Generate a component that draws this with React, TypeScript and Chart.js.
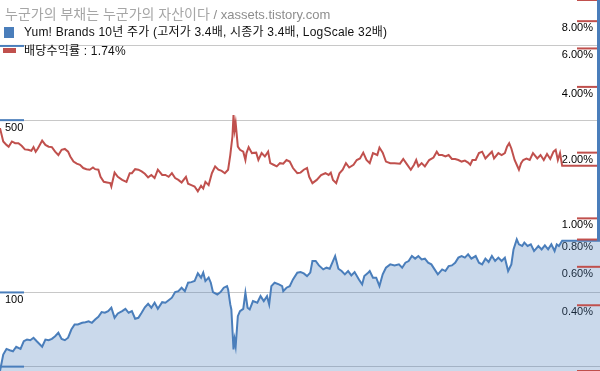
import React, { useEffect, useRef } from "react";
import { Chart, registerables } from "chart.js";

Chart.register(...registerables);

// ---- text ----
const TITLE_KO = "누군가의 부채는 누군가의 자산이다";
const TITLE_SITE = " / xassets.tistory.com";
const PRICE_LABEL = "Yum! Brands 10년 주가 (고저가 3.4배, 시종가 3.4배, LogScale 32배)";
const YIELD_LABEL = "배당수익률 : 1.74%";

// ---- price series (weeks from start, price in USD) ----
const priceWeeks = [
  0, 3, 6, 9, 12, 15, 19, 22, 25, 28,
  31, 34, 39, 42, 45, 48, 51, 54, 57, 60,
  63, 66, 69, 72, 76, 79, 82, 85, 88, 91,
  94, 97, 100, 103, 106, 109, 113, 116, 119, 122,
  125, 128, 131, 134, 137, 140, 143, 146, 150, 153,
  156, 159, 162, 165, 168, 171, 174, 177, 180, 183,
  186, 188, 190, 193, 195, 197, 201, 204, 207, 210,
  211, 213, 214, 216, 217, 218, 220, 222, 225, 227,
  229, 231, 234, 238, 241, 244, 247, 249, 251, 254,
  258, 261, 262, 265, 268, 271, 275, 278, 281, 284,
  287, 289, 292, 295, 299, 302, 305, 308, 310, 313,
  316, 319, 322, 325, 328, 332, 335, 337, 340, 342,
  345, 348, 351, 354, 357, 361, 365, 369, 372, 375,
  378, 381, 384, 387, 390, 393, 396, 399, 402, 405,
  409, 412, 415, 418, 421, 424, 427, 430, 433, 436,
  440, 443, 446, 449, 452, 455, 458, 461, 464, 467,
  470, 473, 475, 478, 480, 483, 485, 488, 491, 494,
  498, 501, 504, 507, 510, 513, 515, 517, 520,
];
const priceValues = [
  48, 56.0, 59.0, 58.3, 57.7, 60.2, 59.0, 63.4, 64.4, 64.0,
  65.5, 63.4, 60.2, 64.4, 64.0, 64.8, 66.4, 68.6, 64.8, 64.0,
  65.5, 70.7, 74.1, 74.1, 75.3, 75.7, 76.4, 75.3, 77.7, 79.7,
  83.2, 82.7, 84.0, 86.7, 78.9, 82.2, 84.0, 85.8, 82.7, 84.0,
  78.2, 78.9, 82.7, 87.0, 90.0, 86.7, 90.8, 85.8, 91.3, 90.8,
  93.0, 95.2, 100.3, 101.2, 104.5, 101.2, 109.5, 110.1, 111.2, 119.5,
  114.8, 120.3, 111.2, 114.8, 109.5, 100.3, 98.1, 100.3, 104.5, 106.1,
  102.9, 89.4, 85.3, 58.7, 64.4, 60.5, 80.1, 84.0, 85.8, 99.7,
  86.7, 85.3, 92.2, 90.8, 96.6, 92.2, 96.6, 89.4, 106.1, 109.5,
  107.8, 106.1, 101.2, 104.5, 106.0, 112.9, 120.3, 120.9, 119.5, 116.5,
  120.3, 134.1, 134.1, 128.7, 124.0, 126.0, 124.8, 134.1, 140.5, 124.8,
  122.1, 118.4, 122.1, 117.2, 120.9, 112.9, 107.8, 116.5, 119.5, 122.1,
  114.8, 114.8, 106.1, 118.4, 126.0, 130.0, 128.7, 130.0, 126.0, 132.0,
  134.1, 140.5, 137.1, 140.5, 136.2, 137.1, 132.0, 130.0, 124.0, 118.4,
  124.0, 122.1, 127.9, 128.7, 132.0, 138.4, 140.5, 138.4, 142.7, 137.1,
  140.5, 132.0, 130.0, 137.1, 132.8, 140.5, 134.1, 138.4, 134.1, 138.4,
  122.1, 130.0, 149.5, 164.2, 156.7, 154.3, 159.2, 154.3, 156.7, 147.2,
  154.3, 149.5, 155.3, 149.5, 156.7, 147.2, 156.7, 154.3, 162.0,
];

// ---- dividend yield series (weeks from start, %) ----
const yieldWeeks = [
  0, 3, 6, 8, 11, 14, 17, 20, 23, 26,
  29, 31, 33, 35, 39, 42, 45, 48, 51, 54,
  57, 60, 63, 65, 68, 71, 74, 77, 80, 83,
  86, 88, 91, 93, 96, 99, 102, 103, 106, 109,
  113, 117, 120, 122, 125, 128, 131, 134, 137, 140,
  143, 146, 150, 153, 156, 159, 162, 165, 168, 172,
  174, 177, 180, 183, 186, 188, 190, 193, 196, 199,
  202, 205, 208, 211, 213, 215, 216, 217, 218, 220,
  222, 225, 227, 228, 230, 233, 237, 239, 242, 245,
  248, 250, 253, 256, 259, 262, 265, 268, 271, 275,
  278, 281, 284, 286, 289, 293, 297, 301, 304, 306,
  308, 311, 314, 317, 320, 323, 327, 330, 333, 336,
  339, 342, 345, 349, 351, 354, 357, 361, 365, 370,
  373, 376, 380, 383, 385, 387, 390, 393, 397, 401,
  404, 406, 409, 412, 415, 418, 421, 424, 427, 430,
  433, 435, 437, 440, 443, 446, 449, 452, 455, 457,
  461, 464, 467, 469, 471, 473, 476, 478, 480, 482,
  484, 487, 490, 493, 497, 500, 503, 506, 509, 512,
  514, 516, 518, 520,
];
const yieldValues = [
  2.59, 2.25, 2.17, 2.13, 2.25, 2.21, 2.21, 2.15, 2.07, 2.06,
  2.04, 2.12, 2.02, 2.09, 2.27, 2.17, 2.13, 2.12, 2.02, 1.95,
  2.06, 2.08, 2.02, 1.92, 1.82, 1.78, 1.76, 1.70, 1.68, 1.67,
  1.71, 1.68, 1.67, 1.55, 1.47, 1.46, 1.45, 1.40, 1.62, 1.55,
  1.50, 1.47, 1.61, 1.61, 1.68, 1.67, 1.64, 1.60, 1.54, 1.58,
  1.53, 1.67, 1.58, 1.58, 1.55, 1.61, 1.53, 1.50, 1.46, 1.55,
  1.44, 1.42, 1.40, 1.33, 1.41, 1.37, 1.47, 1.42, 1.61, 1.73,
  1.67, 1.65, 1.61, 1.67, 1.95, 2.37, 2.97, 2.54, 2.73, 2.13,
  2.06, 2.02, 1.85, 1.99, 2.12, 1.99, 2.00, 1.85, 1.99, 1.92,
  2.02, 1.79, 1.76, 1.73, 1.79, 1.78, 1.85, 1.82, 1.70, 1.61,
  1.62, 1.67, 1.70, 1.55, 1.45, 1.50, 1.58, 1.61, 1.58, 1.62,
  1.50, 1.45, 1.61, 1.67, 1.79, 1.71, 1.76, 1.85, 1.88, 2.00,
  1.85, 1.79, 1.99, 1.95, 2.11, 2.00, 1.82, 1.79, 1.79, 1.78,
  1.87, 1.78, 1.67, 1.76, 1.85, 1.73, 1.79, 1.73, 1.85, 1.90,
  2.02, 1.95, 1.95, 1.92, 1.95, 1.87, 1.87, 1.85, 1.82, 1.84,
  1.80, 1.76, 1.85, 1.85, 1.99, 2.02, 1.88, 1.95, 2.02, 1.88,
  1.99, 1.95, 1.99, 2.13, 2.21, 2.09, 1.85, 1.76, 1.67, 1.79,
  1.85, 1.88, 1.85, 1.99, 1.88, 1.95, 1.85, 1.97, 1.87, 2.02,
  2.06, 1.85, 1.99, 1.74,
];

// ---- axes ----
const WEEK_MAX = 555;
const PRICE_MIN = 48;
const PRICE_MAX = 1536;
const priceTicks = [50, 100, 500, 1000];
const priceLabeled = [100, 500];
const YIELD_MIN = 0.2;
const YIELD_MAX = 10;
const yieldTicks = [0.2, 0.4, 0.6, 0.8, 1, 2, 4, 6, 8, 10];
const yieldLabeled = [0.4, 0.6, 0.8, 1, 2, 4, 6, 8];

// ---- styles ----
const BLUE = "#4a7ebb";
const RED = "#c0504d";
const FILL = "rgba(79,129,189,0.3)";
const GRID = "#c8c8c8";
const TICK_FONT = { family: "'Liberation Sans', Arial, sans-serif", size: 11 };
const TEXT_FONT = "'Liberation Sans', 'Noto Sans CJK KR', sans-serif";

const markPlugin = {
  id: "edgeMarks",
  afterDraw(chart: any) {
    const { ctx, chartArea } = chart;
    const { left, right, top } = chartArea;
    const yP = chart.scales.yP;
    const yY = chart.scales.yY;
    ctx.save();
    ctx.lineWidth = 2;
    ctx.strokeStyle = BLUE;
    priceTicks.forEach((v) => {
      const y = yP.getPixelForValue(v);
      ctx.beginPath();
      ctx.moveTo(left, y);
      ctx.lineTo(left + 24, y);
      ctx.stroke();
    });
    ctx.strokeStyle = RED;
    yieldTicks.forEach((v) => {
      const y = yY.getPixelForValue(v);
      ctx.beginPath();
      ctx.moveTo(right - 23, y);
      ctx.lineTo(right, y);
      ctx.stroke();
    });
    // last price marker bar on the right edge
    const yl = yP.getPixelForValue(priceValues[priceValues.length - 1]);
    ctx.strokeStyle = BLUE;
    ctx.lineWidth = 3;
    ctx.beginPath();
    ctx.moveTo(right - 1.5, top);
    ctx.lineTo(right - 1.5, yl);
    ctx.stroke();
    ctx.restore();
  },
};

function zeroWidth(scale: any) {
  scale.width = 0;
  scale.paddingTop = 0;
  scale.paddingBottom = 0;
}

export default function App() {
  const canvasRef = useRef<HTMLCanvasElement | null>(null);

  useEffect(() => {
    const canvas = canvasRef.current;
    if (!canvas) return;
    const priceData = priceWeeks.map((w, i) => ({ x: w, y: priceValues[i] }));
    priceData.push({ x: WEEK_MAX, y: priceValues[priceValues.length - 1] });
    const yieldData = yieldWeeks.map((w, i) => ({ x: w, y: yieldValues[i] }));
    yieldData.push({ x: WEEK_MAX, y: yieldValues[yieldValues.length - 1] });

    const chart = new Chart(canvas, {
      type: "line",
      data: {
        datasets: [
          {
            label: PRICE_LABEL,
            data: priceData,
            yAxisID: "yP",
            borderColor: BLUE,
            backgroundColor: FILL,
            borderWidth: 2,
            pointRadius: 0,
            fill: "start",
            tension: 0,
          },
          {
            label: YIELD_LABEL,
            data: yieldData,
            yAxisID: "yY",
            borderColor: RED,
            borderWidth: 2,
            pointRadius: 0,
            fill: false,
            tension: 0,
          },
        ],
      },
      options: {
        responsive: false,
        maintainAspectRatio: false,
        animation: false,
        layout: { padding: 0 },
        plugins: { legend: { display: false }, tooltip: { enabled: false }, title: { display: false } },
        scales: {
          x: { type: "linear", min: 0, max: WEEK_MAX, display: false },
          yP: {
            type: "logarithmic",
            position: "left",
            min: PRICE_MIN,
            max: PRICE_MAX,
            afterBuildTicks: (axis: any) => {
              axis.ticks = priceTicks.map((v) => ({ value: v }));
            },
            afterFit: zeroWidth,
            border: { display: false },
            grid: { color: GRID, lineWidth: 1, drawTicks: false },
            ticks: {
              mirror: true,
              padding: 5,
              labelOffset: 8,
              autoSkip: false,
              color: "#000",
              font: TICK_FONT,
              callback: (v: any) => (priceLabeled.includes(Number(v)) ? String(v) : ""),
            },
          },
          yY: {
            type: "logarithmic",
            position: "right",
            min: YIELD_MIN,
            max: YIELD_MAX,
            z: 1,
            afterBuildTicks: (axis: any) => {
              axis.ticks = yieldTicks.map((v) => ({ value: v }));
            },
            afterFit: zeroWidth,
            border: { display: false },
            grid: { display: false, drawTicks: false },
            ticks: {
              mirror: true,
              padding: -7,
              labelOffset: 7,
              autoSkip: false,
              color: "#000",
              font: TICK_FONT,
              textStrokeColor: "#fff",
              textStrokeWidth: 3,
              callback: (v: any) =>
                yieldLabeled.includes(Number(v)) ? Number(v).toFixed(2) + "%" : "",
            },
          },
        },
      },
      plugins: [markPlugin],
    } as any);
    return () => chart.destroy();
  }, []);

  const legendText = {
    position: "absolute" as const,
    left: 24,
    font: `12px ${TEXT_FONT}`,
    lineHeight: "16px",
    letterSpacing: "0.2px",
    color: "#111",
    whiteSpace: "nowrap" as const,
  };

  return (
    <div style={{ position: "absolute", left: 0, top: 0, width: 600, height: 371, background: "#fff" }}>
      <canvas ref={canvasRef} width={600} height={371} style={{ display: "block" }} />
      <div
        style={{
          position: "absolute",
          left: 5,
          top: 3,
          lineHeight: "16px",
          whiteSpace: "nowrap",
        }}
      >
        <span style={{ font: `14px ${TEXT_FONT}`, color: "#a6a6a6" }}>{TITLE_KO}</span>
        <span style={{ font: `13px ${TEXT_FONT}`, color: "#8e8e8e" }}>{TITLE_SITE}</span>
      </div>
      <div style={{ position: "absolute", left: 4, top: 27, width: 10, height: 11, background: BLUE }} />
      <div style={{ ...legendText, top: 24 }}>{PRICE_LABEL}</div>
      <div style={{ position: "absolute", left: 3, top: 48, width: 13, height: 5, background: RED }} />
      <div style={{ ...legendText, top: 43 }}>{YIELD_LABEL}</div>
    </div>
  );
}
